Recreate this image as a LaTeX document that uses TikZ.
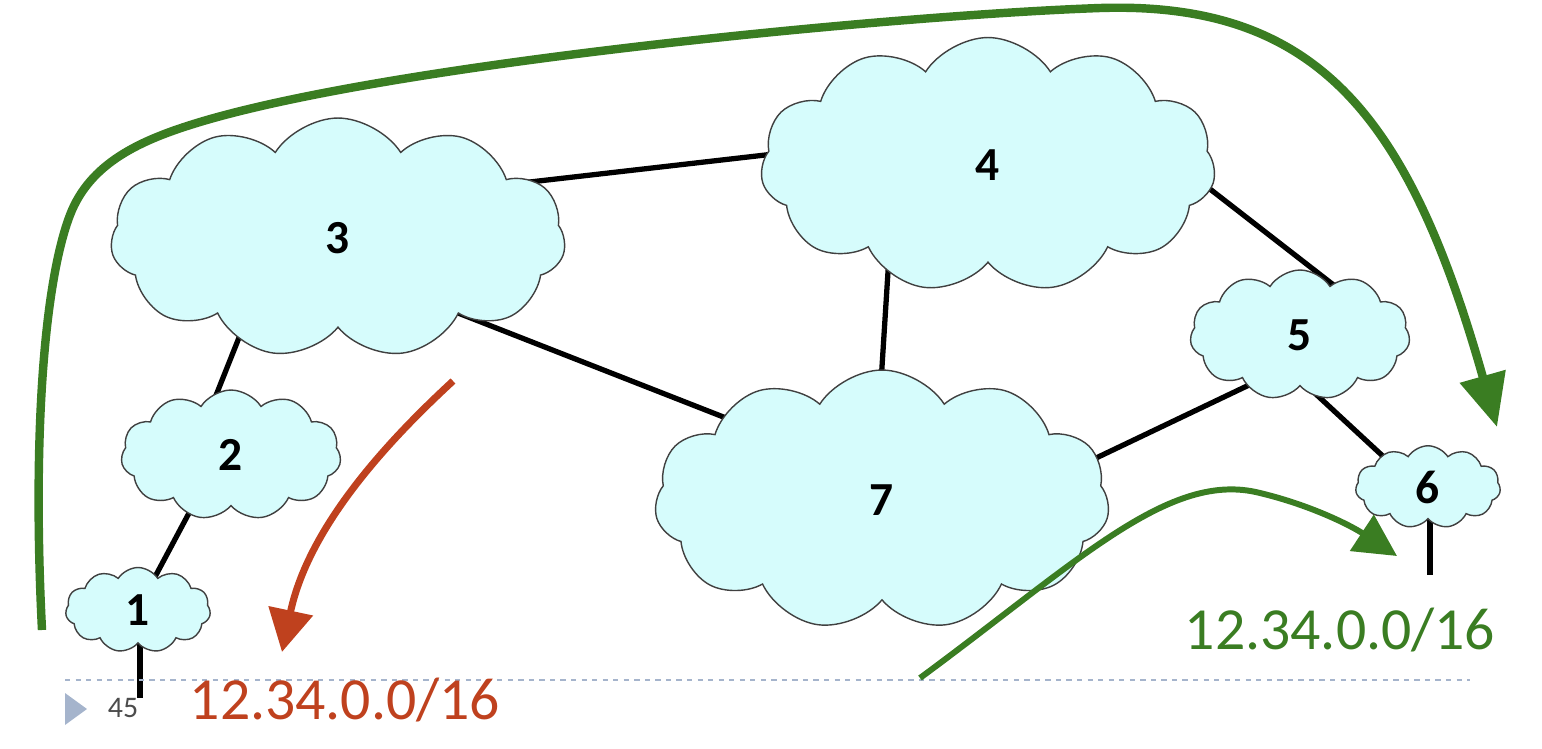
\documentclass[tikz,border=0pt]{standalone}
\usepackage{fontspec}
\setmainfont{Carlito}
\usetikzlibrary{shapes.symbols, arrows.meta, calc}

\definecolor{cloudfill}{RGB}{214,252,252}
\definecolor{arrred}{RGB}{191,65,30}
\definecolor{arrgreen}{RGB}{58,125,34}
\definecolor{slidegray}{RGB}{165,180,204}

\pgfdeclarelayer{background}
\pgfsetlayers{background,main}

\tikzset{
  net/.style={cloud, cloud puffs=11, cloud puff arc=115, cloud ignores aspect,
    draw=black!75, line width=0.8pt, fill=cloudfill, inner sep=0pt,
    font=\fontsize{27}{30}\selectfont\bfseries},
  link/.style={line width=3pt},
  addrtext/.style={font=\fontsize{34}{40}\selectfont}
}

\begin{document}
\begin{tikzpicture}[x=0.02cm, y=-0.02cm]
    \useasboundingbox (0,0) rectangle (1542,748);

    % slide footer
    \draw[slidegray, dashed, line width=0.6pt] (65,680) -- (1470,680);
    \fill[slidegray] (65,693) -- (87,709) -- (65,725) -- cycle;
    \node[text=black!70, font=\fontsize{17}{20}\selectfont] (page) at (123,708) {45};

    % the networks
    \node[net, minimum width=9.1cm, minimum height=4.8cm] (n3) at (338,238) {3};
    \node[net, minimum width=9.1cm, minimum height=5.1cm] (n4) at (988,165) {4};
    \node[net, minimum width=4.4cm, minimum height=2.6cm] (n2) at (231,455) {2};
    \node[net, minimum width=2.9cm, minimum height=1.7cm] (n1) at (138,610) {1};
    \node[net, minimum width=4.4cm, minimum height=2.6cm] (n5) at (1300,335) {5};
    \node[net, minimum width=2.9cm, minimum height=1.65cm] (n6) at (1428,487) {6};
    \node[net, minimum width=9.1cm, minimum height=5.2cm] (n7) at (882,500) {7};

    % links between them (behind the clouds)
    \coordinate (h1) at (140,698);
    \coordinate (h6) at (1430,575);
    \begin{pgfonlayer}{background}
    \draw[link] ($(n3)+(122,-48)$) -- ($(n4)+(-118,-22)$);
    \draw[link] ($(n3)+(92,64)$) -- ($(n7)+(-82,-53)$);
    \draw[link] ($(n3)+(-88,72)$) -- ($(n2)+(-26,-32)$);
    \draw[link] ($(n2)+(-26,28)$) -- ($(n1)+(10,-20)$);
    \draw[link] ($(n4)+(-98,75)$) -- ($(n7)+(-4,-70)$);
    \draw[link] ($(n4)+(182,-7)$) -- ($(n5)+(40,-45)$);
    \draw[link] ($(n5)+(-30,40)$) -- ($(n7)+(168,-20)$);
    \draw[link] ($(n5)+(5,49)$) -- ($(n6)+(-28,-15)$);
    % stub hosts
    \draw[link] ($(n1)+(2,20)$) -- (h1);
    \draw[link] ($(n6)+(2,20)$) -- (h6);
    \end{pgfonlayer}

    % advertised prefixes
    \node[addrtext, text=arrred] (p1) at (345,700) {12.34.0.0/16};
    \node[addrtext, text=arrgreen] (p6) at (1340,630) {12.34.0.0/16};

    % red arrow
    \coordinate (r0) at (453,381);
    \coordinate (r1) at (282,652);
    \draw[arrred, line width=4pt, -{Triangle[length=24pt, width=25pt]}]
        (r0) .. controls (400,430) and (310,520) .. (r1);

    % long green arrow over the top
    \coordinate (g0) at (42,630);
    \coordinate (g1) at (1497,427);
    \draw[arrgreen, line width=4.8pt, -{Triangle[length=30pt, width=26pt]}]
        (g0) .. controls (32,430) and (45,280) .. (70,215)
        .. controls (90,163) and (140,140) .. (200,122)
        .. controls (400,62) and (900,15) .. (1100,8)
        .. controls (1320,1) and (1410,120) .. (g1);

    % short green arrow
    \coordinate (s0) at (920,678);
    \coordinate (s1) at (1397,556);
    \draw[arrgreen, line width=3.4pt, -{Triangle[length=24pt, width=24pt]}]
        (s0) .. controls (1080,560) and (1170,470) .. (1260,493)
        .. controls (1310,505) and (1350,525) .. (s1);
\end{tikzpicture}
\end{document}
